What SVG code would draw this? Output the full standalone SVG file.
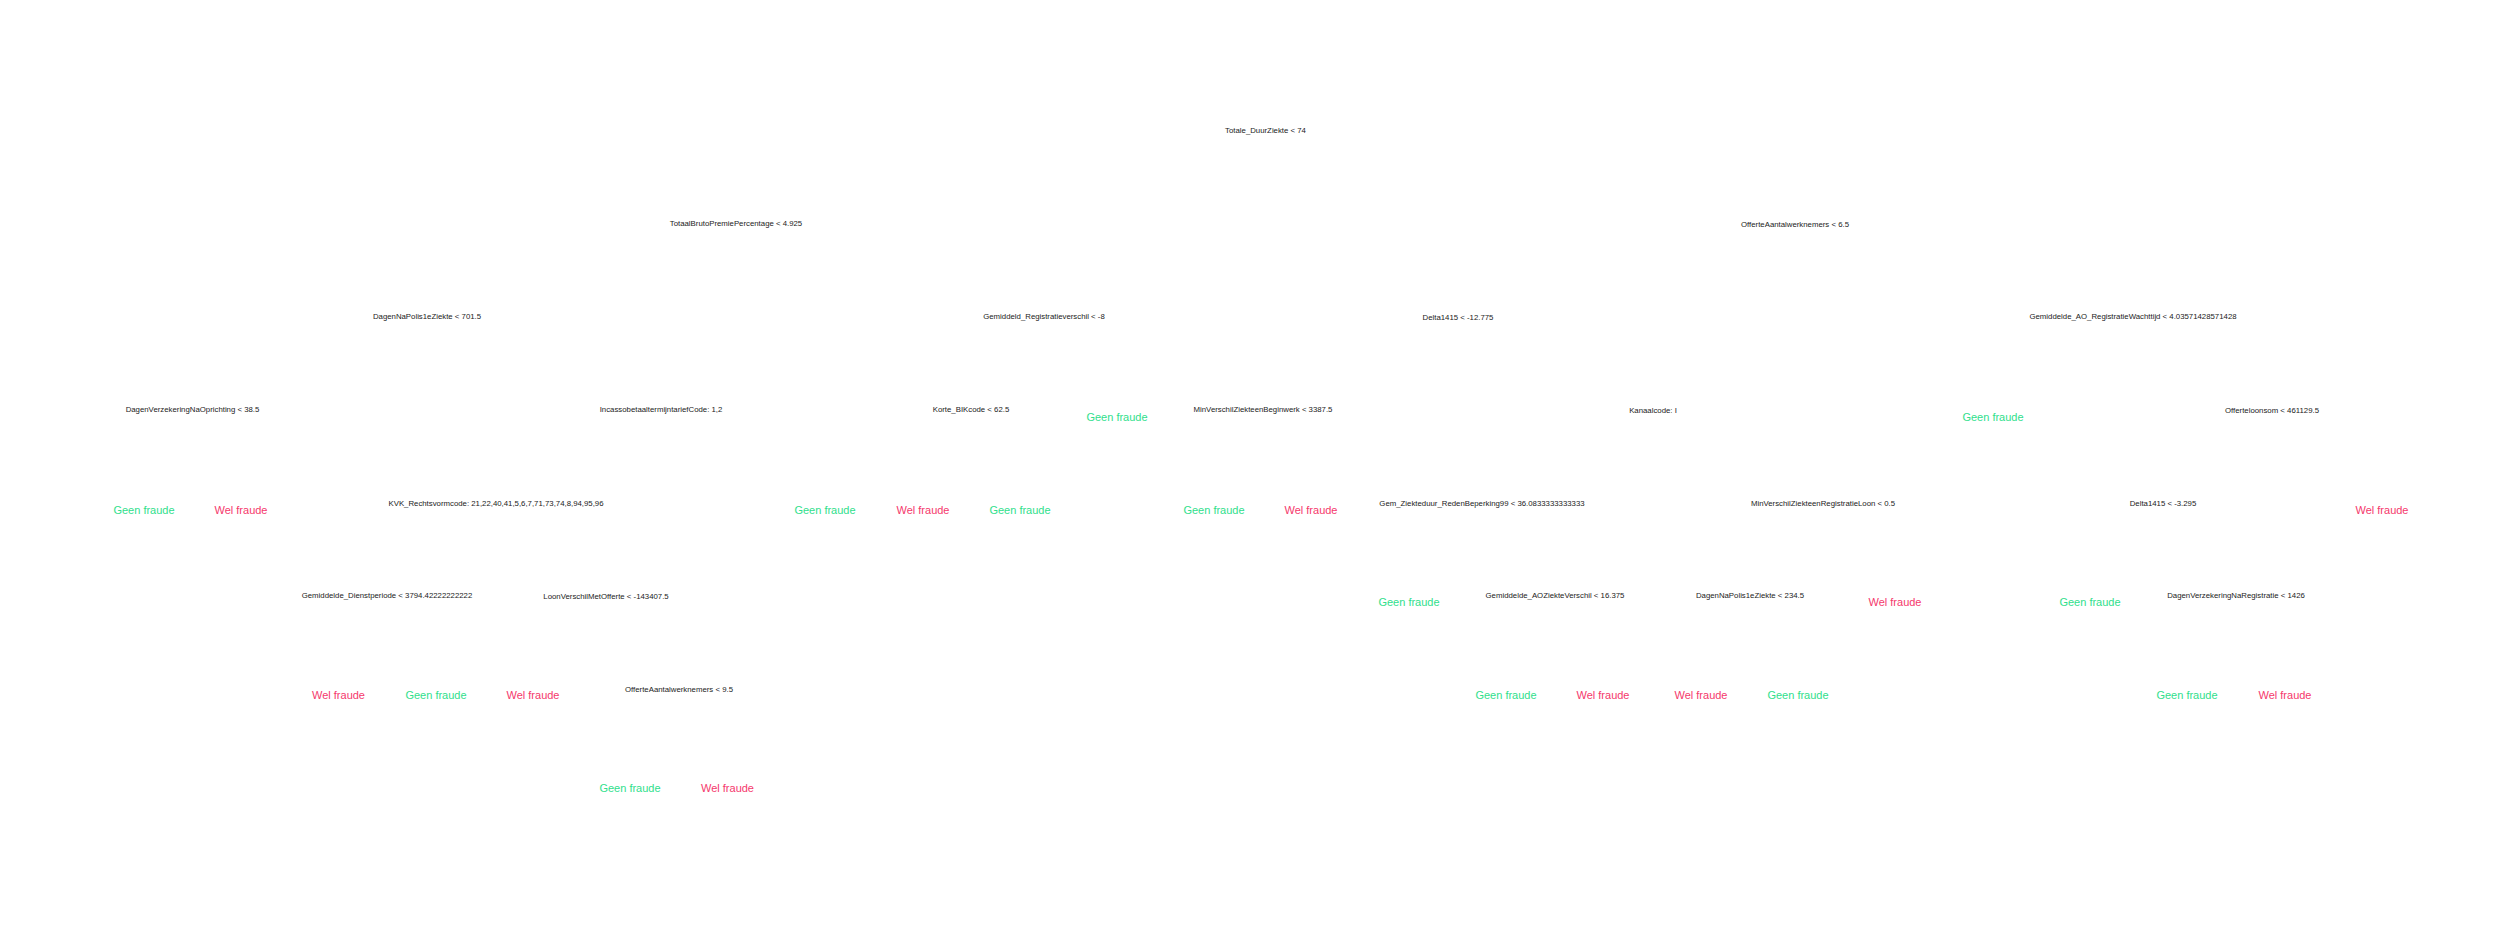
<svg xmlns="http://www.w3.org/2000/svg" width="2500" height="926" viewBox="0 0 2500 926">
<style>
text{font-family:"Liberation Sans",Arial,sans-serif;text-anchor:middle}
.c{font-size:7.8px;fill:#222}
.g{font-size:11px;fill:#2fe08c}
.w{font-size:11px;fill:#f5386c}
</style>
<rect width="2500" height="926" fill="#fff"/>
<g id="connectors"/>
<g id="n1"><text class="c" x="1265.5" y="133">Totale_DuurZiekte &lt; 74</text></g>
<g id="n2"><text class="c" x="736" y="226">TotaalBrutoPremiePercentage &lt; 4.925</text></g>
<g id="n3"><text class="c" x="1795" y="227">OfferteAantalwerknemers &lt; 6.5</text></g>
<g id="n4"><text class="c" x="427" y="319">DagenNaPolis1eZiekte &lt; 701.5</text></g>
<g id="n5"><text class="c" x="1044" y="319">Gemiddeld_Registratieverschil &lt; -8</text></g>
<g id="n6"><text class="c" x="1458" y="320">Delta1415 &lt; -12.775</text></g>
<g id="n7"><text class="c" x="2133" y="319">Gemiddelde_AO_RegistratieWachttijd &lt; 4.03571428571428</text></g>
<g id="n8"><text class="c" x="192.5" y="412">DagenVerzekeringNaOprichting &lt; 38.5</text></g>
<g id="n9"><text class="c" x="661" y="412">IncassobetaaltermijntariefCode: 1,2</text></g>
<g id="n10"><text class="c" x="971" y="412">Korte_BIKcode &lt; 62.5</text></g>
<g id="n11"><text class="g" x="1117" y="421">Geen fraude</text></g>
<g id="n12"><text class="c" x="1263" y="412">MinVerschilZiekteenBeginwerk &lt; 3387.5</text></g>
<g id="n13"><text class="c" x="1653" y="413">Kanaalcode: I</text></g>
<g id="n14"><text class="g" x="1993" y="421">Geen fraude</text></g>
<g id="n15"><text class="c" x="2272" y="413">Offerteloonsom &lt; 461129.5</text></g>
<g id="n16"><text class="g" x="144" y="514">Geen fraude</text></g>
<g id="n17"><text class="w" x="241" y="514">Wel fraude</text></g>
<g id="n18"><text class="c" x="496" y="506">KVK_Rechtsvormcode: 21,22,40,41,5,6,7,71,73,74,8,94,95,96</text></g>
<g id="n19"><text class="g" x="825" y="514">Geen fraude</text></g>
<g id="n20"><text class="w" x="923" y="514">Wel fraude</text></g>
<g id="n21"><text class="g" x="1020" y="514">Geen fraude</text></g>
<g id="n22"><text class="g" x="1214" y="514">Geen fraude</text></g>
<g id="n23"><text class="w" x="1311" y="514">Wel fraude</text></g>
<g id="n24"><text class="c" x="1482" y="506">Gem_Ziekteduur_RedenBeperking99 &lt; 36.0833333333333</text></g>
<g id="n25"><text class="c" x="1823" y="506">MinVerschilZiekteenRegistratieLoon &lt; 0.5</text></g>
<g id="n26"><text class="c" x="2163" y="506">Delta1415 &lt; -3.295</text></g>
<g id="n27"><text class="w" x="2382" y="514">Wel fraude</text></g>
<g id="n28"><text class="c" x="387" y="598">Gemiddelde_Dienstperiode &lt; 3794.42222222222</text></g>
<g id="n29"><text class="c" x="606" y="599">LoonVerschilMetOfferte &lt; -143407.5</text></g>
<g id="n30"><text class="g" x="1409" y="606">Geen fraude</text></g>
<g id="n31"><text class="c" x="1555" y="598">Gemiddelde_AOZiekteVerschil &lt; 16.375</text></g>
<g id="n32"><text class="c" x="1750" y="598">DagenNaPolis1eZiekte &lt; 234.5</text></g>
<g id="n33"><text class="w" x="1895" y="606">Wel fraude</text></g>
<g id="n34"><text class="g" x="2090" y="606">Geen fraude</text></g>
<g id="n35"><text class="c" x="2236" y="598">DagenVerzekeringNaRegistratie &lt; 1426</text></g>
<g id="n36"><text class="w" x="338.5" y="699">Wel fraude</text></g>
<g id="n37"><text class="g" x="436" y="699">Geen fraude</text></g>
<g id="n38"><text class="w" x="533" y="699">Wel fraude</text></g>
<g id="n39"><text class="c" x="679" y="692">OfferteAantalwerknemers &lt; 9.5</text></g>
<g id="n40"><text class="g" x="1506" y="699">Geen fraude</text></g>
<g id="n41"><text class="w" x="1603" y="699">Wel fraude</text></g>
<g id="n42"><text class="w" x="1701" y="699">Wel fraude</text></g>
<g id="n43"><text class="g" x="1798" y="699">Geen fraude</text></g>
<g id="n44"><text class="g" x="2187" y="699">Geen fraude</text></g>
<g id="n45"><text class="w" x="2285" y="699">Wel fraude</text></g>
<g id="n46"><text class="g" x="630" y="792">Geen fraude</text></g>
<g id="n47"><text class="w" x="727.5" y="792">Wel fraude</text></g>
</svg>
